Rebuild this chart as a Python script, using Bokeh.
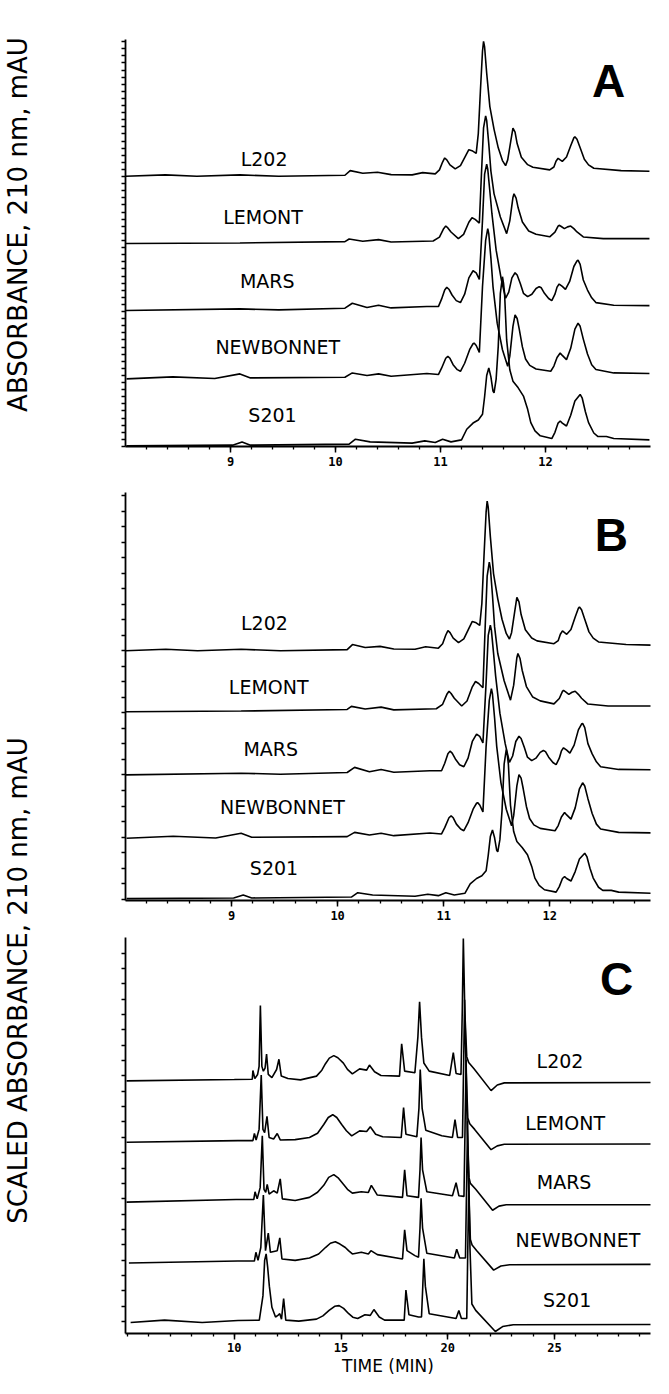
import math
from bokeh.plotting import figure
from bokeh.models import Range1d, FixedTicker
from bokeh.layouts import row, column
from bokeh.embed import file_html
from bokeh.resources import INLINE
from bokeh.core.properties import value

# ---------------- data (time in min, absorbance above each trace's own baseline) -------------
CULTIVARS = ["L202", "LEMONT", "MARS", "NEWBONNET", "S201"]

# Panel A / B (8 - 13 min window)
A_L202 = [(8.0, 0), (8.38, 0.19), (8.68, 0), (9.09, 0.19), (9.46, 0), (10.09, 0.14), (10.14, 0.79),
          (10.26, 0.42), (10.40, 0.56), (10.53, 0.23), (10.73, 0.19), (10.83, 0.51), (10.95, 0.33),
          (10.99, 0.9), (11.02, 2.0), (11.04, 2.57), (11.06, 2.3), (11.09, 1.6), (11.14, 1.03),
          (11.19, 1.5), (11.24, 2.9), (11.27, 3.73), (11.30, 3.6), (11.34, 3.22), (11.36, 6.0),
          (11.38, 12.0), (11.40, 17.6), (11.41, 19.0), (11.42, 18.2), (11.44, 14.5), (11.47, 9.8),
          (11.51, 6.6), (11.55, 4.0), (11.59, 2.2), (11.62, 1.49), (11.64, 2.3), (11.67, 5.0),
          (11.69, 6.77), (11.71, 6.2), (11.73, 4.6), (11.77, 2.66), (11.83, 1.63), (11.88, 1.26),
          (12.04, 0.9), (12.08, 1.3), (12.10, 2.1), (12.12, 2.52), (12.14, 2.3), (12.16, 2.1),
          (12.20, 2.7), (12.24, 4.3), (12.27, 5.4), (12.28, 5.56), (12.30, 5.2), (12.33, 4.0),
          (12.37, 2.4), (12.41, 1.6), (12.46, 1.12), (12.72, 0.79), (12.99, 0.7)]
A_LEMONT = [(8.0, 0), (9.09, 0.09), (10.09, 0.28), (10.13, 0.65), (10.26, 0.33), (10.41, 0.56),
            (10.53, 0.23), (10.93, 0.37), (10.99, 0.9), (11.03, 2.1), (11.05, 2.47), (11.07, 2.2),
            (11.10, 1.63), (11.17, 0.7), (11.22, 1.3), (11.27, 3.0), (11.30, 3.64), (11.33, 3.4),
            (11.37, 2.89), (11.39, 9.8), (11.41, 16.3), (11.43, 17.97), (11.44, 17.3), (11.46, 14.0),
            (11.48, 10.2), (11.51, 7.0), (11.57, 3.73), (11.63, 1.4), (11.66, 3.2), (11.69, 6.5),
            (11.70, 7.0), (11.72, 6.4), (11.74, 5.0), (11.78, 3.03), (11.84, 1.77), (11.91, 1.31),
            (12.04, 0.95), (12.09, 1.6), (12.12, 2.45), (12.13, 2.57), (12.15, 2.4), (12.18, 2.1),
            (12.21, 2.35), (12.24, 2.47), (12.27, 2.1), (12.30, 1.63), (12.36, 0.93), (12.55, 0.7),
            (12.99, 0.7)]
A_MARS = [(8.0, 0), (9.09, 0.23), (9.46, 0.09), (10.09, 0.33), (10.16, 1.03), (10.30, 0.42),
          (10.41, 0.75), (10.53, 0.37), (10.87, 0.56), (10.98, 0.56), (11.01, 1.6), (11.04, 2.9),
          (11.06, 3.27), (11.08, 3.0), (11.11, 2.19), (11.15, 1.4), (11.19, 1.12), (11.23, 2.3),
          (11.27, 4.6), (11.31, 5.6), (11.34, 5.3), (11.37, 4.39), (11.40, 12.7), (11.42, 19.2),
          (11.44, 20.6), (11.45, 19.9), (11.47, 16.8), (11.49, 13.6), (11.53, 8.5), (11.58, 4.3),
          (11.62, 1.73), (11.65, 2.6), (11.68, 4.6), (11.71, 5.32), (11.73, 5.0), (11.76, 3.8),
          (11.79, 2.43), (11.83, 1.96), (11.87, 2.3), (11.91, 3.1), (11.94, 3.36), (11.96, 3.2),
          (11.99, 2.43), (12.03, 1.7), (12.06, 1.4), (12.09, 2.3), (12.11, 3.3), (12.13, 3.73),
          (12.16, 3.4), (12.19, 2.99), (12.23, 4.1), (12.27, 6.2), (12.30, 7.0), (12.31, 7.1),
          (12.33, 6.5), (12.36, 4.3), (12.40, 2.89), (12.44, 1.8), (12.48, 1.12), (12.65, 0.75),
          (12.99, 0.7)]
A_NEWBONNET = [(8.01, 0), (8.45, 0.28), (8.85, 0.05), (9.09, 0.7), (9.19, 0.14), (10.09, 0.23),
               (10.16, 0.84), (10.30, 0.47), (10.41, 0.7), (10.53, 0.37), (10.87, 0.75), (10.98, 0.61),
               (11.01, 1.5), (11.05, 2.9), (11.07, 3.17), (11.09, 2.9), (11.12, 2.0), (11.16, 1.3),
               (11.19, 1.07), (11.23, 2.2), (11.28, 4.2), (11.31, 4.95), (11.32, 5.04), (11.34, 4.7),
               (11.37, 3.73), (11.40, 13.0), (11.43, 19.5), (11.45, 21.15), (11.46, 20.4), (11.48, 17.0),
               (11.50, 13.0), (11.54, 7.84), (11.59, 4.1), (11.64, 1.77), (11.66, 3.2), (11.69, 7.4),
               (11.71, 9.0), (11.73, 8.5), (11.75, 7.0), (11.78, 4.5), (11.81, 2.8), (11.85, 1.9),
               (11.91, 1.4), (12.05, 1.07), (12.08, 1.8), (12.11, 3.0), (12.14, 3.64), (12.16, 3.3),
               (12.20, 2.71), (12.24, 4.3), (12.28, 7.0), (12.31, 7.84), (12.33, 7.4), (12.36, 5.6),
               (12.40, 3.5), (12.44, 2.0), (12.48, 1.31), (12.65, 0.84), (12.99, 0.75)]
A_S201 = [(8.01, 0.09), (9.02, 0.19), (9.11, 0.65), (9.19, 0.19), (10.13, 0.33), (10.19, 1.03),
          (10.33, 0.65), (10.73, 0.47), (10.85, 0.79), (10.95, 0.56), (11.02, 1.03), (11.10, 0.65),
          (11.20, 0.93), (11.25, 2.43), (11.31, 3.3), (11.36, 3.73), (11.40, 4.53), (11.42, 7.0),
          (11.44, 10.0), (11.46, 11.06), (11.48, 9.8), (11.50, 7.8), (11.51, 7.56), (11.53, 9.5),
          (11.55, 14.1), (11.57, 21.57), (11.59, 23.9), (11.60, 23.0), (11.61, 21.57), (11.63, 15.0),
          (11.66, 10.8), (11.69, 9.2), (11.74, 8.26), (11.79, 7.1), (11.83, 5.23), (11.86, 3.36),
          (11.90, 2.2), (11.95, 1.5), (12.06, 1.12), (12.09, 2.0), (12.12, 3.3), (12.14, 3.59),
          (12.16, 3.3), (12.20, 2.89), (12.24, 4.4), (12.28, 6.4), (12.33, 7.33), (12.35, 6.8),
          (12.38, 4.9), (12.41, 3.36), (12.46, 1.9), (12.50, 1.4), (12.58, 1.4), (12.65, 1.12),
          (12.99, 0.93)]

# Panel C (full run, 5 - 30 min)
C_L202 = [(4.95, 0), (10.0, 0.08), (10.84, 0.1), (10.87, 0.63), (10.96, 0.14), (11.09, 0.39),
          (11.16, 0.88), (11.22, 4.57), (11.29, 0.88), (11.36, 0.59), (11.44, 0.78), (11.51, 1.63),
          (11.59, 0.39), (11.76, 0.2), (11.98, 0.69), (12.09, 1.31), (12.20, 0.29), (12.51, 0.14),
          (13.10, 0.06), (13.85, 0.29), (14.10, 0.65), (14.27, 1.04), (14.45, 1.38), (14.66, 1.53),
          (14.85, 1.4), (15.11, 1.08), (15.30, 0.7), (15.53, 0.43),
          (15.87, 0.73), (16.20, 0.65), (16.33, 0.96), (16.57, 0.55), (16.87, 0.33), (17.74, 0.29),
          (17.84, 2.25), (17.98, 0.59), (18.46, 0.49), (18.60, 2.65), (18.68, 4.80), (18.77, 2.65),
          (18.88, 1.08), (19.13, 0.59), (20.09, 0.33), (20.26, 1.71), (20.39, 0.45), (20.62, 0.39),
          (20.68, 4.2), (20.73, 8.63), (20.80, 4.2), (20.89, 1.47), (20.98, 1.12), (21.23, 0.73),
          (22.03, -0.59), (22.32, -0.25), (22.65, -0.12), (29.74, -0.1)]
C_LEMONT = [(4.95, 0), (10.17, 0.1), (10.87, 0.1), (10.94, 0.53), (11.02, 0.14), (11.16, 0.78),
            (11.26, 4.08), (11.34, 0.78), (11.42, 0.59), (11.53, 1.57), (11.63, 0.29), (11.84, 0.2),
            (12.01, 0.53), (12.15, 0.14), (12.85, 0.16), (13.52, 0.29), (13.90, 0.55), (14.19, 1.08),
            (14.40, 1.5), (14.61, 1.67), (14.80, 1.5), (15.03, 1.08), (15.25, 0.7), (15.50, 0.39),
            (15.87, 0.69), (16.20, 0.65), (16.37, 0.94), (16.62, 0.49),
            (16.95, 0.33), (17.82, 0.29), (17.93, 2.1), (18.04, 0.49), (18.55, 0.33), (18.65, 2.06),
            (18.71, 4.41), (18.80, 2.06), (18.97, 0.73), (19.72, 0.39), (20.22, 0.29), (20.34, 1.37),
            (20.46, 0.29), (20.69, 0.29), (20.74, 4.41), (20.79, 8.63), (20.86, 4.41), (20.94, 1.47),
            (21.03, 1.12), (21.26, 0.78), (22.03, -0.45), (22.32, -0.22), (22.65, -0.12), (29.74, -0.1)]
C_MARS = [(4.95, 0), (10.08, 0.16), (10.91, 0.16), (10.97, 0.63), (11.07, 0.2), (11.21, 0.88),
          (11.31, 4.02), (11.39, 0.78), (11.47, 0.59), (11.54, 1.08), (11.63, 0.49), (11.84, 0.69),
          (12.01, 0.55), (12.15, 1.41), (12.25, 0.2), (12.85, 0.1), (13.52, 0.29), (13.90, 0.6),
          (14.19, 1.02), (14.42, 1.5), (14.66, 1.67), (14.88, 1.45), (15.11, 1.08), (15.30, 0.78),
          (15.53, 0.55), (15.95, 0.63), (16.28, 0.59), (16.42, 1.02),
          (16.70, 0.43), (17.88, 0.29), (17.98, 1.96), (18.09, 0.39), (18.63, 0.29), (18.70, 1.96),
          (18.75, 3.92), (18.82, 1.96), (19.02, 0.63), (20.22, 0.39), (20.39, 1.18), (20.52, 0.39),
          (20.76, 0.35), (20.81, 4.51), (20.86, 8.63), (20.91, 4.51), (21.00, 1.47), (21.06, 1.14),
          (21.31, 0.78), (22.10, -0.49), (22.40, -0.24), (22.74, -0.16), (29.74, -0.16)]
C_NEWBONNET = [(5.06, 0), (10.17, 0.12), (10.94, 0.12), (11.01, 0.65), (11.11, 0.16), (11.24, 0.94),
               (11.36, 4.12), (11.46, 0.75), (11.59, 1.82), (11.69, 0.65), (12.01, 0.75), (12.13, 1.53),
               (12.23, 0.25), (12.85, 0.16), (13.52, 0.31), (13.95, 0.55), (14.27, 0.94), (14.50, 1.2),
               (14.73, 1.29), (14.95, 1.15), (15.20, 0.94), (15.35, 0.75), (15.53, 0.55),
               (15.95, 0.65), (16.28, 0.55), (16.40, 0.75), (16.70, 0.51), (17.88, 0.25),
               (17.98, 2.02), (18.09, 0.75), (18.46, 0.45), (18.63, 0.35), (18.70, 2.12), (18.75, 3.92),
               (18.82, 2.12), (19.02, 0.59), (20.31, 0.31), (20.42, 0.84), (20.56, 0.31), (20.83, 0.31),
               (20.88, 4.47), (20.93, 8.59), (20.98, 4.47), (21.06, 1.43), (21.14, 1.1), (21.36, 0.75),
               (22.15, -0.43), (22.49, -0.18), (22.90, -0.1), (29.74, -0.08)]
C_S201 = [(5.14, 0), (6.73, 0.14), (8.49, 0), (10.17, 0.12), (11.17, 0.14), (11.34, 1.61), (11.42, 3.76),
          (11.49, 4.16), (11.56, 3.37), (11.64, 2.2), (11.76, 0.92), (11.93, 0.33), (12.04, 0.43),
          (12.13, 0.53), (12.21, 0.2), (12.31, 1.45), (12.41, 0.14), (13.02, 0.08), (13.85, 0.2),
          (14.15, 0.4), (14.44, 0.73), (14.70, 0.98), (14.91, 1.02), (15.12, 0.85), (15.36, 0.53),
          (15.55, 0.32), (15.78, 0.24), (16.12, 0.47), (16.37, 0.43),
          (16.54, 0.78), (16.79, 0.33), (17.04, 0.14), (17.96, 0.14), (18.04, 1.96), (18.18, 0.47),
          (18.63, 0.33), (18.77, 0.33), (18.83, 2.2), (18.88, 3.86), (18.95, 2.2), (19.13, 0.53),
          (20.39, 0.24), (20.52, 0.73), (20.64, 0.24), (20.89, 0.24), (20.94, 4.55), (20.99, 8.67),
          (21.04, 4.55), (21.13, 1.12), (21.31, 0.73), (22.23, -0.55), (22.57, -0.25), (23.07, -0.14),
          (29.74, -0.12)]

A_TRACES = [A_L202, A_LEMONT, A_MARS, A_NEWBONNET, A_S201]
C_TRACES = [C_L202, C_LEMONT, C_MARS, C_NEWBONNET, C_S201]

A_TICKS = [9, 10, 11, 12]
C_TICKS = [10, 15, 20, 25]

# ---------------- layout / style constants ----------------
A_OFFSETS = [38.05, 28.57, 19.14, 9.52, 0.0]
B_OFFSETS = [14.69, 11.1, 7.39, 3.66, 0.08]
C_OFFSETS = [15.31, 11.59, 7.96, 4.27, 0.67]
B_PEAK = 8.8  # scaled height of each trace's largest peak in panel B

A_LABEL_POS = [(9.32, 40.5), (9.31, 32.35), (9.35, 23.25), (9.45, 14.0), (9.40, 4.48)]
B_LABEL_POS = [(9.31, 16.35), (9.35, 12.53), (9.37, 8.94), (9.48, 5.51), (9.40, 1.94)]
C_LABEL_POS = [(25.26, 16.52), (25.5, 12.77), (25.45, 9.17), (26.1, 5.64), (25.59, 2.05)]

LINE_W = 1.6
TXT_FONT = "DejaVu Sans"
TICK_FONT = "DejaVu Sans Mono"


def unzip(pairs):
    return [p[0] for p in pairs], [p[1] for p in pairs]


def make_fig(width, height, xr, yr, bl, br, bt, bb):
    p = figure(width=width, height=height, x_range=Range1d(*xr), y_range=Range1d(*yr),
               output_backend="svg", toolbar_location=None, title=None,
               min_border_left=bl, min_border_right=br, min_border_top=bt, min_border_bottom=bb)
    p.outline_line_color = None
    p.grid.visible = False
    p.background_fill_color = "white"
    p.border_fill_color = "white"
    for ax in (p.xaxis[0], p.yaxis[0]):
        ax.axis_line_width = 1.8
        ax.axis_line_color = "black"
        ax.major_tick_line_width = 1.5
        ax.minor_tick_line_width = 1.3
        ax.major_tick_line_color = "black"
        ax.minor_tick_line_color = "black"
        ax.major_tick_in = 0
        ax.minor_tick_in = 0
        ax.major_tick_out = 6
        ax.minor_tick_out = 3
    xa = p.xaxis[0]
    xa.major_label_text_font = TICK_FONT
    xa.major_label_text_font_style = "bold"
    xa.major_label_text_font_size = "12px"
    xa.major_label_text_color = "black"
    xa.major_label_standoff = 4
    ya = p.yaxis[0]
    ya.minor_tick_out = 4
    ya.major_label_standoff = 0
    return p


def add_labels(p, pos, size="19px"):
    p.text(x=[q[0] for q in pos], y=[q[1] for q in pos], text=CULTIVARS,
           text_font=value(TXT_FONT), text_font_size=size, text_align="center",
           text_baseline="alphabetic", text_color="black")


def add_letter(p, x, y, letter):
    p.text(x=[x], y=[y], text=[letter], text_font=value("Liberation Sans"),
           text_font_style="bold", text_font_size="46px", text_align="center",
           text_baseline="alphabetic", text_color="black")


# ---------------- Panel A ----------------
pA = make_fig(561, 470, (8, 13), (0, 57.3), 17, 3, 39, 24)
pA.xaxis[0].ticker = FixedTicker(ticks=A_TICKS, minor_ticks=[round(8 + 0.2 * i, 2) for i in range(1, 25)])
pA.yaxis[0].ticker = FixedTicker(ticks=[], minor_ticks=list(range(0, 58)))
for tr, off in zip(A_TRACES, A_OFFSETS):
    t, h = unzip(tr)
    pA.line(t, [off + v for v in h], line_color="black", line_width=LINE_W)
add_labels(pA, A_LABEL_POS)
add_letter(pA, 12.6, 51.4, "A")

# ---------------- Panel B (same window, each trace scaled to its largest peak) ----------------
pB = make_fig(561, 452, (8, 12.95), (0, 24), 25, 0, 22, 22)
pB.xaxis[0].ticker = FixedTicker(ticks=A_TICKS, minor_ticks=[round(8 + 0.2 * i, 2) for i in range(1, 25)])
pB.yaxis[0].ticker = FixedTicker(ticks=[], minor_ticks=[0.08 + 0.913 * k for k in range(27)])
for tr, off in zip(A_TRACES, B_OFFSETS):
    t, h = unzip(tr)
    m = max(h)
    pB.line(t, [off + v * B_PEAK / m for v in h], line_color="black", line_width=LINE_W)
add_labels(pB, B_LABEL_POS)
add_letter(pB, 12.58, 21.5, "B")

# ---------------- Panel C ----------------
pC = make_fig(561, 456, (4.9, 29.5), (0, 24), 33, 0, 15, 40)
pC.xaxis[0].ticker = FixedTicker(ticks=C_TICKS, minor_ticks=list(range(5, 30)))
pC.yaxis[0].ticker = FixedTicker(ticks=[], minor_ticks=[-0.2 + 0.93 * k for k in range(1, 26)])
pC.xaxis[0].axis_label = "TIME (MIN)"
pC.xaxis[0].axis_label_text_font = TXT_FONT
pC.xaxis[0].axis_label_text_font_style = "normal"
pC.xaxis[0].axis_label_text_font_size = "17px"
pC.xaxis[0].axis_label_text_color = "black"
pC.xaxis[0].axis_label_standoff = 1
pC.xaxis[0].major_label_standoff = 3
for tr, off in zip(C_TRACES, C_OFFSETS):
    t, h = unzip(tr)
    pC.line(t, [off + v for v in h], line_color="black", line_width=LINE_W)
add_labels(pC, C_LABEL_POS)
add_letter(pC, 27.91, 21.48, "C")

# ---------------- left strip with the vertical axis titles ----------------
lab = figure(width=92, height=1378, x_range=Range1d(0, 92), y_range=Range1d(0, 1378),
             output_backend="svg", toolbar_location=None, title=None,
             x_axis_type=None, y_axis_type=None,
             min_border_left=0, min_border_right=0, min_border_top=0, min_border_bottom=0)
lab.outline_line_color = None
lab.grid.visible = False
lab.text(x=[17, 17], y=[1154, 398],
         text=["ABSORBANCE, 210 nm, mAU", "SCALED ABSORBANCE, 210 nm, mAU"],
         angle=math.pi / 2, text_font=value(TXT_FONT), text_font_size="26px",
         text_align="center", text_baseline="middle", text_color="black")

layout = row(lab, column(pA, pB, pC))
open("out.html", "w").write(file_html(layout, INLINE))
